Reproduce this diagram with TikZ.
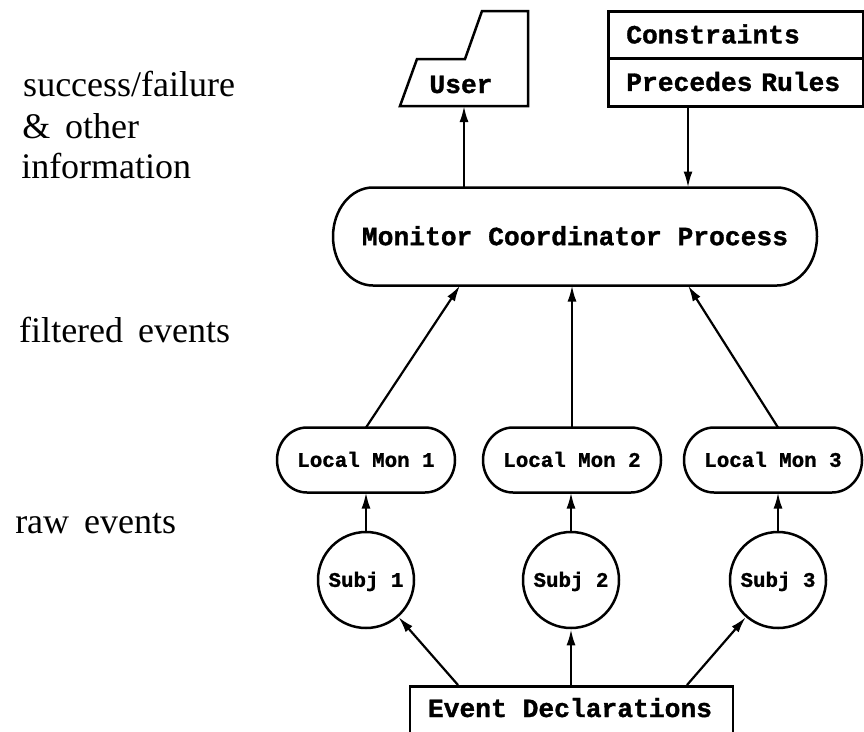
\documentclass[tikz,border=0pt]{standalone}
\usepackage{fontspec}
\setmainfont{Liberation Serif}
\newfontfamily\plotfont{Liberation Mono}[BoldFeatures={FakeBold=1.2}]
\usetikzlibrary{arrows.meta}

\newlength\capbig
\newlength\capsmall
\newcommand\bigplot{\plotfont\bfseries\fontsize{26.3}{30}\selectfont}
\newcommand\smallplot{\plotfont\bfseries\fontsize{20.8}{24}\selectfont}
\newcommand\sidefont{\fontsize{36}{40}\selectfont\spaceskip=15pt plus 2pt\relax}

% rounded-end outline around a node: #1 node, #2 end x-radius, #3 half height
\newcommand\capsuleoutline[3]{%
  \draw ([xshift=#2]#1.north west) -- ([xshift=-#2]#1.north east)
    arc[start angle=90, end angle=-90, x radius=#2, y radius=#3]
    -- ([xshift=#2]#1.south west)
    arc[start angle=270, end angle=90, x radius=#2, y radius=#3]
    -- cycle;}

\begin{document}
\settoheight\capbig{\bigplot X}
\settoheight\capsmall{\smallplot X}
\begin{tikzpicture}[x=1pt, y=-1pt, line width=2.5pt,
  arr/.style={-{Latex[length=16pt,width=9pt]}, line width=2.2pt},
  bigtxt/.style={font=\bigplot, text height=\capbig, text depth=0pt, inner sep=0pt},
  smalltxt/.style={font=\smallplot, text height=\capsmall, text depth=0pt, inner sep=0pt},
  side/.style={font=\sidefont, anchor=base west, inner sep=0pt},
  shelf/.style={draw, bigtxt, rectangle, minimum width=255pt, text width=219pt,
    align=left, inner xsep=18pt, anchor=north west},
  frame/.style={inner sep=0pt, outer sep=0pt, anchor=north west},
  capsule/.style={outer sep=0pt},
  subj/.style={draw, circle, minimum size=96pt, smalltxt},
]
\useasboundingbox (0,0) rectangle (864,731);
\clip (0,0) rectangle (864,731);

% side captions
\node[side] at (22,96)  {success/failure};
\node[side] at (21,138) {\& other};
\node[side] at (20,178) {information};
\node[side] at (18,342) {filtered events};
\node[side] at (14,533) {raw events};

% user terminal
\node[frame, minimum width=128pt, minimum height=95pt] (user) at (400,11) {};
\draw (user.south west) -- ++(17,-47) -- ++(48,0)
  -- ([xshift=-46pt]user.north east) -- (user.north east)
  -- (user.south east) -- cycle;
\node[bigtxt, anchor=base] (userlbl) at (461,93) {User};

% rule store
\node[shelf, minimum height=47pt] (cons) at (607,10) {Constraints};
\node[shelf, minimum height=48pt] (prec) at (607,57) {Precedes Rules};

% coordinator
\node[bigtxt, capsule, minimum width=484pt, minimum height=98pt] (mcp)
  at (575,236.5) {Monitor Coordinator Process};
\capsuleoutline{mcp}{40pt}{49pt}

% local monitors and subjects
\foreach \i/\x/\s in {1/366/366, 2/572/571, 3/773/778} {
  \node[smalltxt, capsule, minimum width=178pt, minimum height=65pt] (lm\i)
    at (\x,460) {Local Mon \i};
  \capsuleoutline{lm\i}{30pt}{32.5pt}
  \node[subj] (s\i) at (\s,580) {Subj \i};
}
\draw[arr] (s1.north) -- (lm1.south);
\draw[arr] (s2.north) -- (lm2.south -| s2);
\draw[arr] (s3.north) -- (lm3.south -| s3);

% event declarations
\node[draw, bigtxt, minimum width=323pt, minimum height=56pt, anchor=north] (ed)
  at (571.5,685) {};
\node[bigtxt, anchor=base] (edlbl) at (570,717) {Event Declarations};

% attachment columns
\coordinate (xu) at (464,0);
\coordinate (xc) at (688,0);
\coordinate (xa) at (460,0);

\draw[arr] (mcp.north -| xu) -- (user.south -| xu);
\draw[arr] (prec.south -| xc) -- (mcp.north -| xc);
\draw[arr] (lm1.north) -- (mcp.south -| xa);
\draw[arr] (lm2.north) -- (mcp.south -| lm2);
\draw[arr] ([xshift=5pt]lm3.north) -- (mcp.south -| xc);

\draw[arr] ([xshift=-113.5pt]ed.north) -- (s1);
\draw[arr] (ed.north -| s2) -- (s2.south);
\draw[arr] ([xshift=115.5pt]ed.north) -- (s3);
\end{tikzpicture}
\end{document}
